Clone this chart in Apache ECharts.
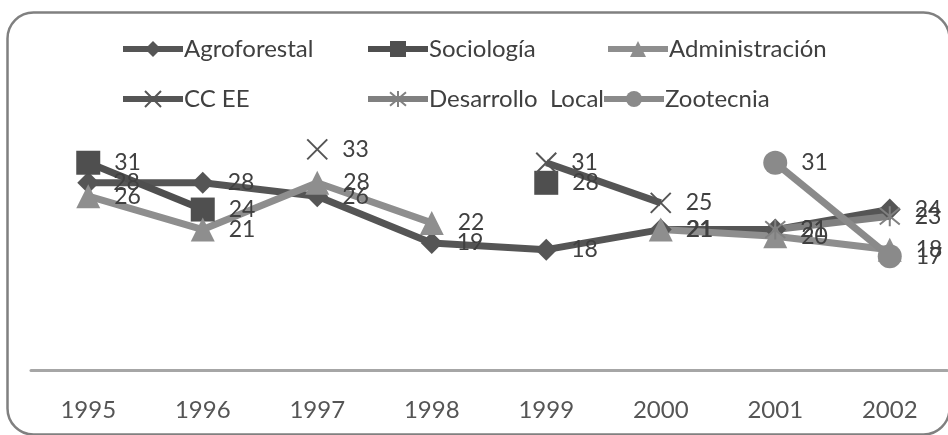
<!DOCTYPE html>
<html>
<head>
<meta charset="utf-8">
<script src="https://cdn.jsdelivr.net/npm/echarts@6/dist/echarts.min.js"></script>
<style>html,body{margin:0;padding:0;background:#fff;}#c{width:948px;height:435px;}</style>
</head>
<body>
<div id="c"></div>
<script>
var years = ['1995','1996','1997','1998','1999','2000','2001','2002'];
var agroforestal = [28, 28, 26, 19, 18, 21, 21, 24];
var sociologia = [31, 24, null, null, 28, null, null, null];
var administracion = [26, 21, 28, 22, null, 21, 20, 18];
var ccee = [null, null, 33, null, 31, 25, null, null];
var desarrollo = [null, null, null, null, null, null, 21, 23];
var zootecnia = [null, null, null, null, null, null, 31, 17];

var FONT = 'Lato';
var xPath = 'path://M0,0L10,10M10,0L0,10';
var starPath = 'path://M0,0L10,10M10,0L0,10M5,-1L5,11';

function mk(name, data, color, symbol, size, extra) {
  var s = {
    name: name, type: 'line', data: data, connectNulls: false,
    symbol: symbol, symbolSize: size,
    lineStyle: { color: color, width: 7 },
    itemStyle: { color: color },
    label: { show: true, position: 'right', distance: 14, color: '#404040', fontSize: 23, fontFamily: FONT },
    emphasis: { disabled: true },
    animation: false
  };
  if (extra) { for (var k in extra) s[k] = extra[k]; }
  return s;
}

var series = [
  mk('Agroforestal', agroforestal, '#555555', 'diamond', 22),
  mk('Sociología', sociologia, '#4f4f4f', 'rect', 24),
  mk('Administración', administracion, '#8e8e8e', 'triangle', 24),
  mk('CC EE', ccee, '#555555', xPath, 20, { itemStyle: { color: 'rgba(0,0,0,0)', borderColor: '#555555', borderWidth: 2 } }),
  mk('Desarrollo  Local', desarrollo, '#808080', starPath, 20, { itemStyle: { color: 'rgba(0,0,0,0)', borderColor: '#808080', borderWidth: 2 } }),
  mk('Zootecnia', zootecnia, '#8a8a8a', 'circle', 24)
];

function lg(name, left, top) {
  return {
    data: [name], left: left, top: top, itemWidth: 60, itemHeight: 20, itemGap: 0,
    lineStyle: { width: 6 },
    textStyle: { fontSize: 24, fontFamily: FONT, color: '#404040', padding: [0,0,0,-4] },
    selectedMode: false
  };
}

var chart = echarts.init(document.getElementById('c'));
chart.setOption({
  animation: false,
  backgroundColor: '#ffffff',
  graphic: [{
    type: 'rect', left: 5, top: 10,
    shape: { width: 942, height: 422, r: 26 },
    style: { fill: 'none', stroke: '#808080', lineWidth: 2.5 },
    z: -1
  }],
  legend: [
    lg('Agroforestal', 115, 32),
    lg('Sociología', 360, 32),
    lg('Administración', 600, 32),
    lg('CC EE', 115, 82),
    lg('Desarrollo  Local', 360, 82),
    lg('Zootecnia', 596, 82)
  ],
  grid: { left: 31, right: 1, top: 136, bottom: 65 },
  xAxis: {
    type: 'category', data: years, boundaryGap: true,
    axisLine: { lineStyle: { color: '#a6a6a6', width: 3 } },
    axisTick: { show: false },
    axisLabel: { color: '#555555', fontSize: 24, fontFamily: FONT, margin: 28 }
  },
  yAxis: {
    type: 'value', min: 0, max: 35, show: false, splitLine: { show: false }
  },
  series: series
});
</script>
</body>
</html>
